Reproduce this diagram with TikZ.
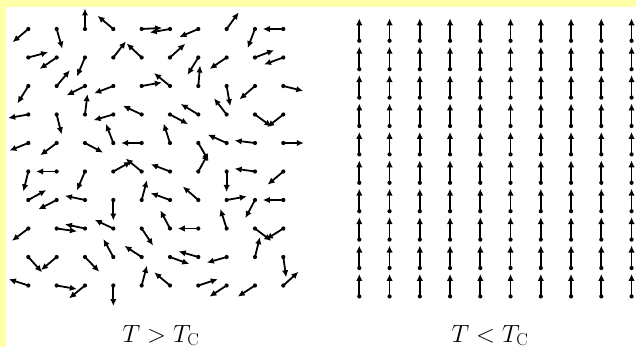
\documentclass[tikz,border=0pt]{standalone}
\usetikzlibrary{arrows.meta}
\definecolor{bgyellow}{RGB}{255,255,168}
\tikzset{
  spin/.style={line width=1.8pt,-{Latex[length=7pt,width=6.4pt]}},
  spindot/.style={fill=black},
  tlabel/.style={anchor=base,inner sep=0pt,font=\fontsize{26}{31}\selectfont}
}
\begin{document}
\begin{tikzpicture}[x=1pt,y=-1pt]
\useasboundingbox (0,0) rectangle (636,347);
\fill[white] (0,0) rectangle (636,347);
\fill[bgyellow] (0,0) rectangle (636,7);
\fill[bgyellow] (0,0) rectangle (6,347);
% disordered spins, T > Tc
\foreach \r/\angs in {
  1/{220,286,90,140,3,190,203,54,249,180},
  2/{15,214,247,52,137,42,238,214,21,200},
  3/{238,50,207,201,10,141,85,280,221,346},
  4/{190,284,83,196,155,332,149,128,324,218},
  5/{202,217,332,111,180,108,300,156,173,0},
  6/{256,180,247,29,141,159,61,270,172,220},
  7/{29,207,168,270,75,160,139,10,242,180},
  8/{217,352,168,155,304,118,180,108,323,212},
  9/{312,220,314,119,147,340,164,196,76,278},
  10/{162,350,219,270,75,140,18,213,213,42}}{
  \foreach \a [count=\c] in \angs {
    \coordinate (p) at ({28.33*\c},{29+28.5*(\r-1)});
    \draw[spin] (p) -- ++(\a:20.5pt);
    \fill[spindot] (p) circle (2.1pt);
  }
}
% ordered spins, T < Tc
\foreach \r in {1,...,10}{
  \foreach \c in {1,...,10}{
    \coordinate (q) at ({359.3+30.25*(\c-1)},{40.8+28.4*(\r-1)});
    \draw[spin] (q) -- ++(90:22.5pt);
    \fill[spindot] (q) circle (2.1pt);
  }
}
\node[tlabel] (hot) at (161,342) {$T>T_{\mathrm{C}}$};
\node[tlabel] (cold) at (490,342) {$T<T_{\mathrm{C}}$};
\end{tikzpicture}
\end{document}
